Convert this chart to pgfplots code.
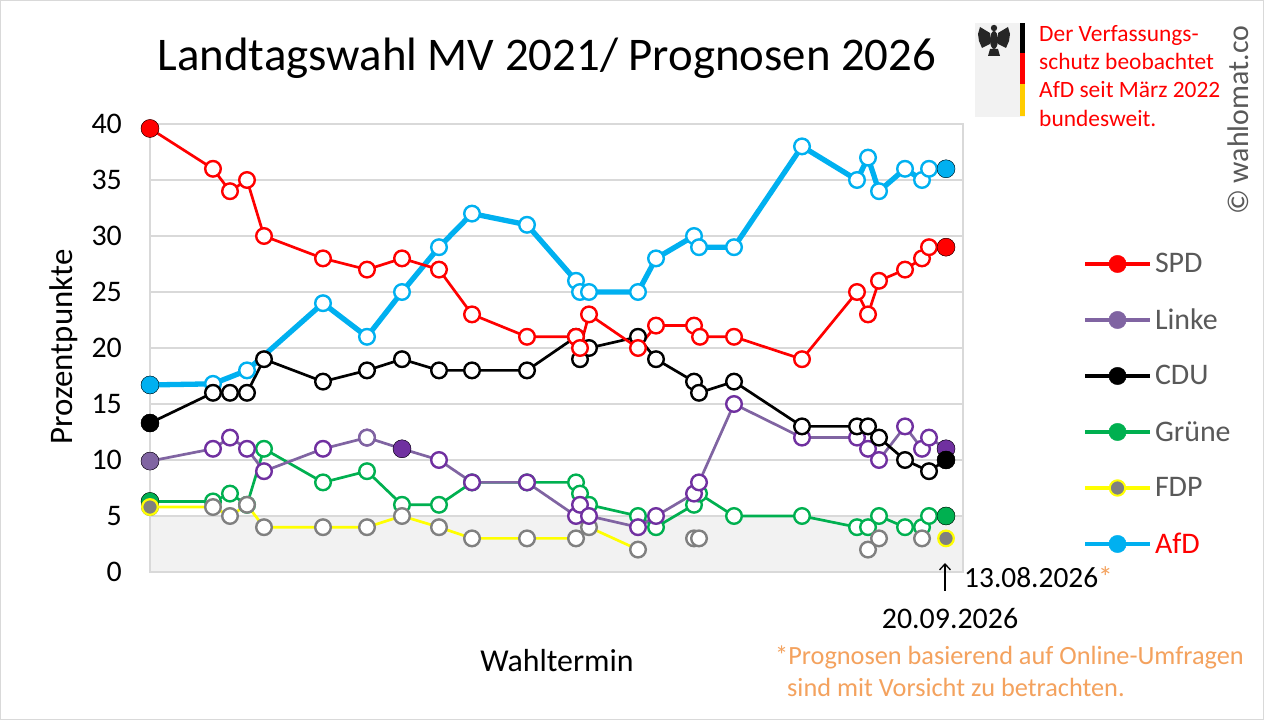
\documentclass[border=0pt]{standalone}
\usepackage{pgfplots}
\pgfplotsset{compat=1.18}
\usepackage{fontspec}
\setmainfont{Carlito}
\usetikzlibrary{arrows.meta}
\definecolor{spd}{HTML}{FF0000}
\definecolor{linke}{HTML}{8064A2}
\definecolor{linkedk}{HTML}{7030A0}
\definecolor{gruene}{HTML}{00B050}
\definecolor{afd}{HTML}{00B0F0}
\definecolor{fdpy}{HTML}{FFFF00}
\definecolor{fdpg}{HTML}{808080}
\definecolor{gridc}{HTML}{D9D9D9}
\definecolor{band}{HTML}{F2F2F2}
\definecolor{txtg}{HTML}{595959}
\definecolor{orng}{HTML}{F4A25E}
\definecolor{gold}{HTML}{FFCC00}
\newcommand{\fs}[1]{\fontsize{#1}{#1}\selectfont}
\begin{document}
\begin{tikzpicture}[x=1bp,y=1bp]
\useasboundingbox (0,0) rectangle (1264,720);
\fill[white] (0,0) rectangle (1264,720);
\draw[gridc, line width=1.2bp] (0.6,0.6) rectangle (1263.4,719.4);
\begin{axis}[
  at={(150bp,148bp)}, anchor=south west, scale only axis,
  width=813bp, height=448bp,
  xmin=150, xmax=963, ymin=0, ymax=40, clip=false,
  axis line style={draw=gridc, line width=1.3bp},
  ytick={0,5,...,40}, ymajorgrids, grid style={draw=gridc, line width=1.3bp},
  major tick length=0pt,
  xtick={149,950}, xticklabels={26.09.2021,20.09.2026},
  tick label style={font=\fs{30}, inner sep=0pt, text=black},
  xticklabel style={anchor=north, yshift=-36bp},
  yticklabel style={anchor=east, xshift=-28bp},
  /pgf/number format/assume math mode=true,
  legend style={at={(axis description cs:1.1476,0.75)}, anchor=north west,
    draw=none, fill=none, inner sep=0pt, outer sep=0pt, row sep=0pt,
    font=\fs{30}, text=txtg, nodes={inner sep=0pt, outer sep=0pt, draw=none},
    /tikz/every even column/.append style={column sep=0pt}},
  legend cell align=left,
]
% legend
\addlegendimage{legend image code/.code={\path[draw=none,fill=none] (0bp,-28bp) rectangle (70bp,28bp); \draw[spd, line width=4bp] (0bp,0bp)--(65bp,0bp); \fill[spd] (32.5bp,0bp) circle (8.7bp);}}
\addlegendentry{SPD}
\addlegendimage{legend image code/.code={\path[draw=none,fill=none] (0bp,-28bp) rectangle (70bp,28bp); \draw[linke, line width=4bp] (0bp,0bp)--(65bp,0bp); \fill[linke] (32.5bp,0bp) circle (8.7bp);}}
\addlegendentry{Linke}
\addlegendimage{legend image code/.code={\path[draw=none,fill=none] (0bp,-28bp) rectangle (70bp,28bp); \draw[black, line width=4bp] (0bp,0bp)--(65bp,0bp); \fill[black] (32.5bp,0bp) circle (8.7bp);}}
\addlegendentry{CDU}
\addlegendimage{legend image code/.code={\path[draw=none,fill=none] (0bp,-28bp) rectangle (70bp,28bp); \draw[gruene, line width=4bp] (0bp,0bp)--(65bp,0bp); \fill[gruene] (32.5bp,0bp) circle (8.7bp);}}
\addlegendentry{Grüne}
\addlegendimage{legend image code/.code={\path[draw=none,fill=none] (0bp,-28bp) rectangle (70bp,28bp); \draw[fdpy, line width=4bp] (0bp,0bp)--(65bp,0bp); \filldraw[fill=fdpg, draw=fdpy, line width=2bp] (32.5bp,0bp) circle (7.7bp);}}
\addlegendentry{FDP}
\addlegendimage{legend image code/.code={\path[draw=none,fill=none] (0bp,-28bp) rectangle (70bp,28bp); \draw[afd, line width=4bp] (0bp,0bp)--(65bp,0bp); \fill[afd] (32.5bp,0bp) circle (8.7bp);}}
\addlegendentry{\textcolor{spd}{AfD}}
% band 0..5
\addplot[fill=band, draw=none, forget plot] coordinates {(150.7,0.06) (962.3,0.06) (962.3,4.93) (150.7,4.93)} -- cycle;
% AfD
\addplot[afd, line width=5.3bp, mark=*, mark size=7.8bp, mark options={draw=afd, fill=white, line width=2.4bp}, forget plot] coordinates {
(150,16.7)(213,16.8)(247,18)(323,24)(367,21)(402,25)(439,29)(472,32)(527,31)(576,26)(580,25)(589,25)(638,25)(656,28)(694,30)(699,29)(734,29)(802,38)(857,35)(868,37)(879,34)(905,36)(922,35)(929,36)(946,36)};
\addplot[only marks, mark=*, mark size=9bp, mark options={draw=none, fill=afd}, forget plot] coordinates {(150,16.7)(946,36)};
% Gruene
\addplot[gruene, line width=2.7bp, mark=*, mark size=7.8bp, mark options={draw=gruene, fill=white, line width=2.4bp}, forget plot] coordinates {
(150,6.3)(213,6.3)(230,7)(247,6)(264,11)(323,8)(367,9)(402,6)(439,6)(472,8)(527,8)(576,8)(580,7)(589,6)(638,5)(656,4)(694,6)(699,7)(734,5)(802,5)(857,4)(868,4)(879,5)(905,4)(922,4)(929,5)(946,5)};
\addplot[only marks, mark=*, mark size=9bp, mark options={draw=none, fill=gruene}, forget plot] coordinates {(150,6.3)(946,5)};
% FDP
\addplot[fdpy, line width=2.7bp, mark=*, mark size=7.8bp, mark options={draw=fdpg, fill=white, line width=2.4bp}, forget plot] coordinates {
(150,5.8)(213,5.8)(230,5)(247,6)(264,4)(323,4)(367,4)(402,5)(439,4)(472,3)(527,3)(576,3)(589,4)(638,2)};
\addplot[only marks, mark=*, mark size=7.8bp, mark options={draw=fdpg, fill=white, line width=2.4bp}, forget plot] coordinates {
(694,3)(699,3)(868,2)(879,3)(922,3)};
\addplot[only marks, mark=*, mark size=7.8bp, mark options={draw=fdpy, fill=fdpg, line width=2.2bp}, forget plot] coordinates {(150,5.8)(946,3)};
% Linke
\addplot[linke, line width=2.7bp, mark=*, mark size=7.8bp, mark options={draw=linkedk, fill=white, line width=2.4bp}, forget plot] coordinates {
(150,9.9)(213,11)(230,12)(247,11)(264,9)(323,11)(367,12)(402,11)(439,10)(472,8)(527,8)(576,5)(580,6)(589,5)(638,4)(656,5)(694,7)(699,8)(734,15)(802,12)(857,12)(868,11)(879,10)(905,13)(922,11)(929,12)(946,11)};
\addplot[only marks, mark=*, mark size=7.8bp, mark options={draw=linke, fill=white, line width=2.4bp}, forget plot] coordinates {(367,12)};
\addplot[only marks, mark=*, mark size=9bp, mark options={draw=none, fill=linke}, forget plot] coordinates {(150,9.9)};
\addplot[only marks, mark=*, mark size=9bp, mark options={draw=none, fill=linkedk}, forget plot] coordinates {(402,11)(946,11)};
% CDU
\addplot[black, line width=2.7bp, mark=*, mark size=7.8bp, mark options={draw=black, fill=white, line width=2.4bp}, forget plot] coordinates {
(150,13.3)(213,16)(230,16)(247,16)(264,19)(323,17)(367,18)(402,19)(439,18)(472,18)(527,18)(576,21)(580,19)(589,20)(638,21)(656,19)(694,17)(699,16)(734,17)(802,13)(857,13)(868,13)(879,12)(905,10)(929,9)(946,10)};
\addplot[only marks, mark=*, mark size=9bp, mark options={draw=none, fill=black}, forget plot] coordinates {(150,13.3)(946,10)};
% SPD
\addplot[spd, line width=2.7bp, mark=*, mark size=7.8bp, mark options={draw=spd, fill=white, line width=2.4bp}, forget plot] coordinates {
(150,39.6)(213,36)(230,34)(247,35)(264,30)(323,28)(367,27)(402,28)(439,27)(472,23)(527,21)(576,21)(580,20)(589,23)(638,20)(656,22)(694,22)(700,21)(734,21)(802,19)(857,25)(868,23)(879,26)(905,27)(922,28)(929,29)(946,29)};
\addplot[only marks, mark=*, mark size=9bp, mark options={draw=none, fill=spd}, forget plot] coordinates {(150,39.6)(946,29)};
\end{axis}
% texts
\node[anchor=base, font=\fs{47}] at (547,649) {Landtagswahl MV 2021/ Prognosen 2026};
\node[rotate=90, anchor=center, font=\fs{33}] at (64,373) {Prozentpunkte};
\node[anchor=base, font=\fs{32}] at (557,48) {Wahltermin};
\draw[black, line width=1.3bp, -{Straight Barb[length=6bp, width=11bp]}] (945,129) -- (945,157);
\node[anchor=base west, font=\fs{29.5}, inner sep=0pt] at (964,132) {13.08.2026\textcolor{orng}{*}};
\node[anchor=base west, font=\fs{26.4}, inner sep=0pt, text=orng] at (775,55) {*Prognosen basierend auf Online-Umfragen};
\node[anchor=base west, font=\fs{26.4}, inner sep=0pt, text=orng] at (787,23) {sind mit Vorsicht zu betrachten.};
% logo
\fill[black!5] (975,603) rectangle (1025,697);
\fill[black] (1020,667) rectangle (1025,697);
\fill[spd] (1020,636) rectangle (1025,667);
\fill[gold] (1020,604) rectangle (1025,636);
\begin{scope}[black!85]
\fill (994,680) ellipse (4 and 9);
\fill (994,692) circle (3.2);
\fill (990,687) -- (980,693) -- (978,686) -- (979,679) -- (982,672) -- (990,676) -- cycle;
\fill (998,687) -- (1008,693) -- (1010,686) -- (1009,679) -- (1006,672) -- (998,676) -- cycle;
\fill (990,671) -- (998,671) -- (1000,664) -- (988,664) -- cycle;
\end{scope}
\node[anchor=base west, font=\fs{23.5}, inner sep=0pt, text=spd] at (1039,678) {Der Verfassungs-};
\node[anchor=base west, font=\fs{23.5}, inner sep=0pt, text=spd] at (1039,650) {schutz beobachtet};
\node[anchor=base west, font=\fs{23.5}, inner sep=0pt, text=spd] at (1039,622) {AfD seit März 2022};
\node[anchor=base west, font=\fs{23.5}, inner sep=0pt, text=spd] at (1039,593) {bundesweit.};
\node[rotate=90, anchor=base west, font=\fs{30}, inner sep=0pt, text=txtg] at (1248,505) {© wahlomat.co};
\end{tikzpicture}
\end{document}
